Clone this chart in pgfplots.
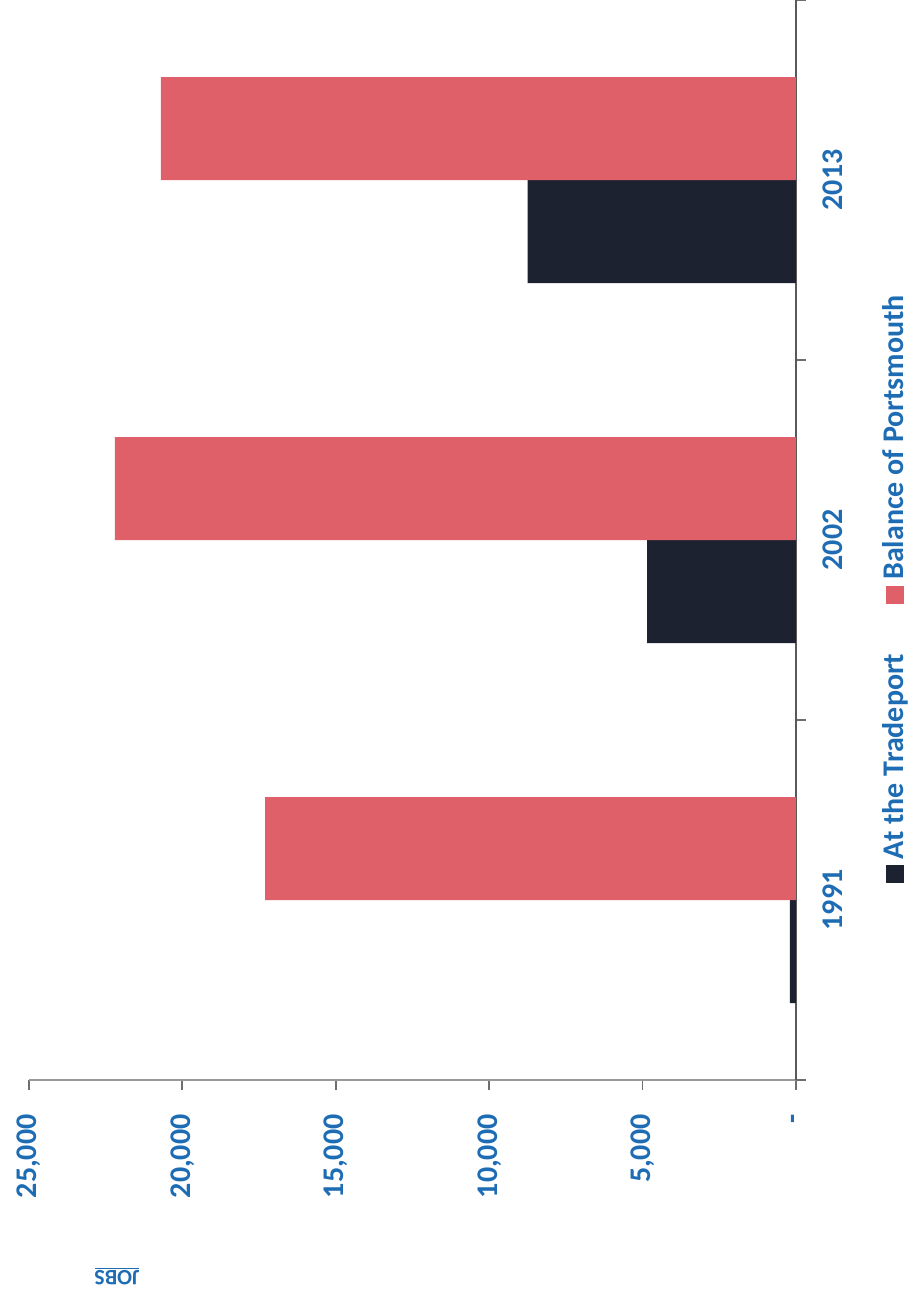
\documentclass[border=0pt]{standalone}
\usepackage{fontspec}
\setmainfont{Carlito}
\usepackage{pgfplots}
\pgfplotsset{compat=1.18}
\definecolor{barred}{HTML}{DF6069}
\definecolor{barblack}{HTML}{1C2230}
\definecolor{txtblue}{HTML}{1E6DB4}
\definecolor{axgray}{HTML}{6E6E6E}
\begin{document}
\begin{tikzpicture}
\path[use as bounding box] (-14.5pt,-108.5pt) rectangle (441.5pt,540pt);
\begin{axis}[
  at={(0pt,0pt)}, anchor=south west,
  scale only axis, width=383.5pt, height=540pt,
  clip=false,
  xbar, bar width=51.5pt,
  x dir=reverse,
  xmin=0, xmax=25000,
  ymin=-0.5, ymax=2.5,
  axis x line*=bottom, axis y line*=right,
  axis line style={line width=0.9pt, -},
  x axis line style={draw=black!40},
  y axis line style={draw=black!65},
  tick align=outside,
  major tick length=5pt, minor tick length=5pt,
  tick style={draw=axgray, line width=0.9pt},
  scaled x ticks=false,
  xtick={0,5000,10000,15000,20000,25000},
  xticklabels={-,{5,000},{10,000},{15,000},{20,000},{25,000}},
  ytick={0,1,2}, yticklabels={1991,2002,2013},
  minor ytick={-0.5,0.5,1.5,2.5},
  every major y tick/.style={draw=none},
  ticklabel style={font=\bfseries\fontsize{15}{18}\selectfont, text=txtblue, inner sep=0pt},
  xticklabel style={rotate=90, anchor=east},
  yticklabel style={rotate=90, anchor=north},
  xticklabel shift=12pt,
  yticklabel shift=8pt,
  legend columns=1,
  reverse legend,
  legend image code/.code={},
  legend style={draw=none, fill=none, at={(1.129,0.4545)}, anchor=center,
    font=\bfseries\fontsize{15}{18}\selectfont, text=txtblue,
    nodes={rotate=90}, row sep=21pt, column sep=0pt, inner sep=0pt},
]
\addplot[fill=barblack, draw=none, bar shift=-25.75pt] coordinates {(200,0) (4850,1) (8750,2)};
\addplot[fill=barred, draw=none, bar shift=25.75pt] coordinates {(17300,0) (22200,1) (20700,2)};
\legend{{\textcolor{barblack}{\rule{9pt}{9pt}}\hspace{3pt}At the Tradeport}, {\textcolor{barred}{\rule{9pt}{9pt}}\hspace{3pt}Balance of Portsmouth}}
\node[rotate=180, font=\bfseries\fontsize{11}{13}\selectfont, text=txtblue] at (axis description cs:0.1147,-0.1815) {\underline{JOBS}};
\end{axis}
\end{tikzpicture}
\end{document}
